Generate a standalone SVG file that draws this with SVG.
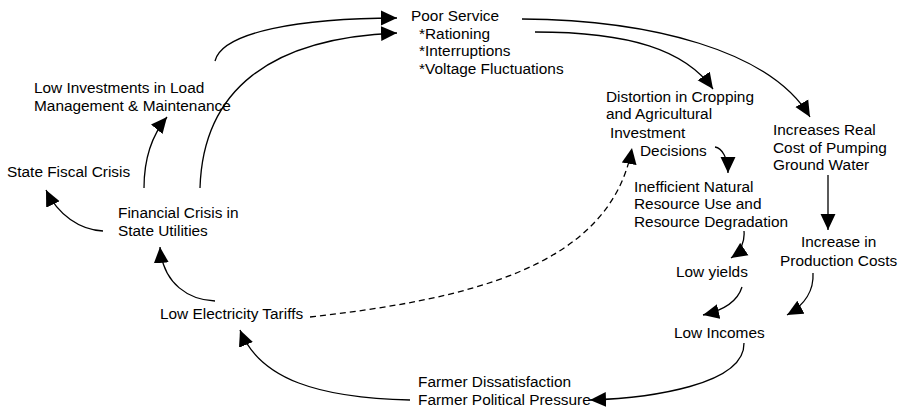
<svg xmlns="http://www.w3.org/2000/svg" width="900" height="413" viewBox="0 0 900 413">
<defs>
<style>
text{font-family:"Liberation Sans",Arial,sans-serif;font-size:15.4px;fill:#000}
.c{fill:none;stroke:#000;stroke-width:1.3}
.d{stroke-dasharray:6,4}
</style>
<marker id="ah" markerUnits="userSpaceOnUse" markerWidth="16" markerHeight="16" viewBox="0 0 15 14" refX="15" refY="7" orient="auto">
<path d="M0,0 L15,7 L0,14 z" fill="#000"/>
</marker>
</defs>
<rect width="900" height="413" fill="#fff"/>
<g id="connectors">
<path class="c" d="M215,61 C222,32 300,18 397,18" marker-end="url(#ah)"/>
<path class="c" d="M200,188 C203,90 270,38 397,33" marker-end="url(#ah)"/>
<path class="c" d="M144,188 C144,160 152,135 167,117" marker-end="url(#ah)"/>
<path class="c" d="M103,231 C80,230 58,215 46,190" marker-end="url(#ah)"/>
<path class="c" d="M215,301 C190,300 163,285 160,247" marker-end="url(#ah)"/>
<path class="c" d="M410,400 C320,398 260,380 240,330" marker-end="url(#ah)"/>
<path class="c d" d="M310,317 C460,300 610,270 632,148" marker-end="url(#ah)"/>
<path class="c" d="M535,32 C630,32 685,50 713,89" marker-end="url(#ah)"/>
<path class="c" d="M522,19 C650,20 770,50 810,117" marker-end="url(#ah)"/>
<path class="c" d="M715,147 C722,148 728,158 728,173" marker-end="url(#ah)"/>
<path class="c" d="M828,175 L828,230" marker-end="url(#ah)"/>
<path class="c" d="M744,231 C745,243 740,252 731,258" marker-end="url(#ah)"/>
<path class="c" d="M742,287 C738,300 725,310 703,315" marker-end="url(#ah)"/>
<path class="c" d="M813,273 C814,290 805,305 787,315" marker-end="url(#ah)"/>
<path class="c" d="M744,343 C745,385 650,398 590,400" marker-end="url(#ah)"/>
</g>
<g id="poor-service"><text x="411" y="21">Poor Service</text><text x="419" y="38.5">*Rationing</text><text x="419" y="56">*Interruptions</text><text x="419" y="73.5">*Voltage Fluctuations</text></g>
<g id="low-investments"><text x="34" y="93">Low Investments in Load</text><text x="34" y="110.5">Management &amp; Maintenance</text></g>
<g id="state-fiscal"><text x="7" y="177">State Fiscal Crisis</text></g>
<g id="financial-crisis"><text x="118" y="218">Financial Crisis in</text><text x="118" y="236">State Utilities</text></g>
<g id="low-tariffs"><text x="160" y="319">Low Electricity Tariffs</text></g>
<g id="farmer"><text x="418" y="387">Farmer Dissatisfaction</text><text x="418" y="405">Farmer Political Pressure</text></g>
<g id="distortion"><text x="606" y="102">Distortion in Cropping</text><text x="606" y="119">and Agricultural</text><text x="610" y="138">Investment</text><text x="640" y="156">Decisions</text></g>
<g id="increases-cost"><text x="773" y="135">Increases Real</text><text x="773" y="152.5">Cost of Pumping</text><text x="773" y="170">Ground Water</text></g>
<g id="inefficient"><text x="634" y="192">Inefficient Natural</text><text x="634" y="209">Resource Use and</text><text x="634" y="226.5">Resource Degradation</text></g>
<g id="production-costs"><text x="801" y="246.5">Increase in</text><text x="780" y="266">Production Costs</text></g>
<g id="low-yields"><text x="676" y="276.5">Low yields</text></g>
<g id="low-incomes"><text x="674" y="338">Low Incomes</text></g>
</svg>
